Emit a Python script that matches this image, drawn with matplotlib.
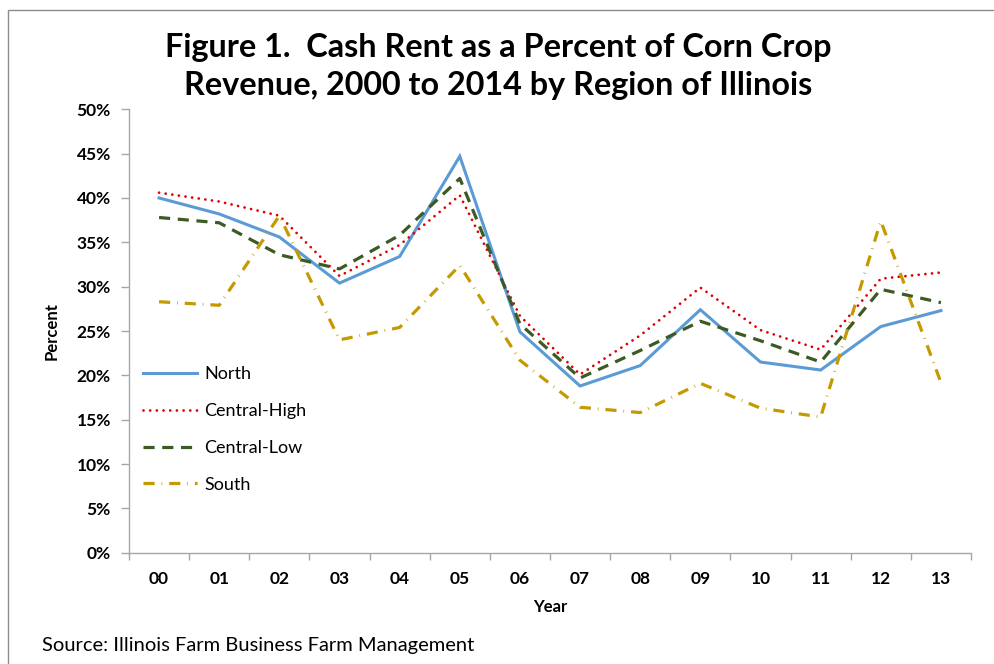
import matplotlib
matplotlib.use('Agg')
import matplotlib.pyplot as plt
from matplotlib.patches import Rectangle
from matplotlib.ticker import FixedLocator, FuncFormatter

plt.rcParams['font.family'] = ['Lato', 'DejaVu Sans']
plt.rcParams['lines.scale_dashes'] = False

years = ['00', '01', '02', '03', '04', '05', '06', '07', '08', '09', '10', '11', '12', '13']
north = [40.0, 38.2, 35.6, 30.4, 33.4, 44.7, 24.9, 18.8, 21.1, 27.4, 21.5, 20.6, 25.5, 27.3]
central_high = [40.6, 39.6, 38.0, 31.2, 34.7, 40.3, 26.7, 20.1, 24.5, 29.9, 25.1, 22.9, 30.9, 31.6]
central_low = [37.8, 37.2, 33.6, 32.0, 35.8, 42.2, 25.8, 19.7, 22.8, 26.1, 23.9, 21.5, 29.7, 28.2]
south = [28.3, 27.9, 38.0, 24.0, 25.4, 32.4, 21.7, 16.4, 15.8, 19.1, 16.3, 15.3, 37.4, 19.2]

fig = plt.figure(figsize=(9.95, 6.64), dpi=100)
# chart frame (runs off the right and bottom edges)
fig.patches.append(Rectangle((8 / 995, -0.1), 1.2, 1 - 10 / 664 + 0.1, transform=fig.transFigure,
                             fill=False, edgecolor='#8c8c8c', linewidth=1.0))

ax = fig.add_axes([129 / 995, 111.3 / 664, 842 / 995, 443.4 / 664])
x = list(range(len(years)))

ax.plot(x, north, color='#5B9BD5', lw=2.2, solid_joinstyle='miter', label='North')
ax.plot(x, central_high, color='#E00000', lw=2.0, linestyle=(0, (0.01, 4.8)),
        dash_capstyle='round', label='Central-High')
ax.plot(x, central_low, color='#3C5A24', lw=2.3, linestyle=(0, (8, 5.5)), label='Central-Low')
ax.plot(x, south, color='#C49A00', lw=2.3, linestyle=(0, (8, 5, 0.5, 5)),
        dash_capstyle='butt', label='South')

ax.set_xlim(-0.5, 13.5)
ax.set_ylim(0, 50)
ax.set_yticks(range(0, 51, 5))
ax.yaxis.set_major_formatter(FuncFormatter(lambda v, p: '{:d}%'.format(int(v))))

# ticks sit between categories, labels in the middle
ax.xaxis.set_major_locator(FixedLocator([i - 0.5 for i in range(len(years) + 1)]))
ax.xaxis.set_minor_locator(FixedLocator(x))
ax.set_xticklabels([], minor=False)
ax.set_xticklabels(years, minor=True)
ax.tick_params(axis='x', which='major', length=5, color='#a6a6a6', width=1)
ax.tick_params(axis='x', which='minor', length=0, pad=13, labelsize=12.5)
ax.tick_params(axis='y', length=6, color='#a6a6a6', width=1, pad=7, labelsize=12.5)
for lab in ax.get_xticklabels(minor=True) + ax.get_yticklabels():
    lab.set_fontweight('bold')

for side in ['top', 'right']:
    ax.spines[side].set_visible(False)
for side in ['left', 'bottom']:
    ax.spines[side].set_color('#a6a6a6')
    ax.spines[side].set_linewidth(1)

ax.set_xlabel('Year', fontsize=12, fontweight='bold', labelpad=9)
ax.set_ylabel('Percent', fontsize=12, fontweight='bold', labelpad=12)

ax.legend(loc='center left', bbox_to_anchor=(136 / 995, (664 - 429.5) / 664),
          bbox_transform=fig.transFigure, frameon=False, fontsize=13,
          handlelength=3.0, handletextpad=0.4, labelspacing=1.15, borderaxespad=0)

fig.text(498 / 995, 1 - 48 / 664, 'Figure 1.  Cash Rent as a Percent of Corn Crop',
         ha='center', va='center', fontsize=23.3, fontweight='bold')
fig.text(498 / 995, 1 - 86 / 664, 'Revenue, 2000 to 2014 by Region of Illinois',
         ha='center', va='center', fontsize=23.3, fontweight='bold')
fig.text(42 / 995, 1 - 646 / 664, 'Source: Illinois Farm Business Farm Management',
         ha='left', va='center', fontsize=14.5)

fig.savefig('out.png', dpi=100)
